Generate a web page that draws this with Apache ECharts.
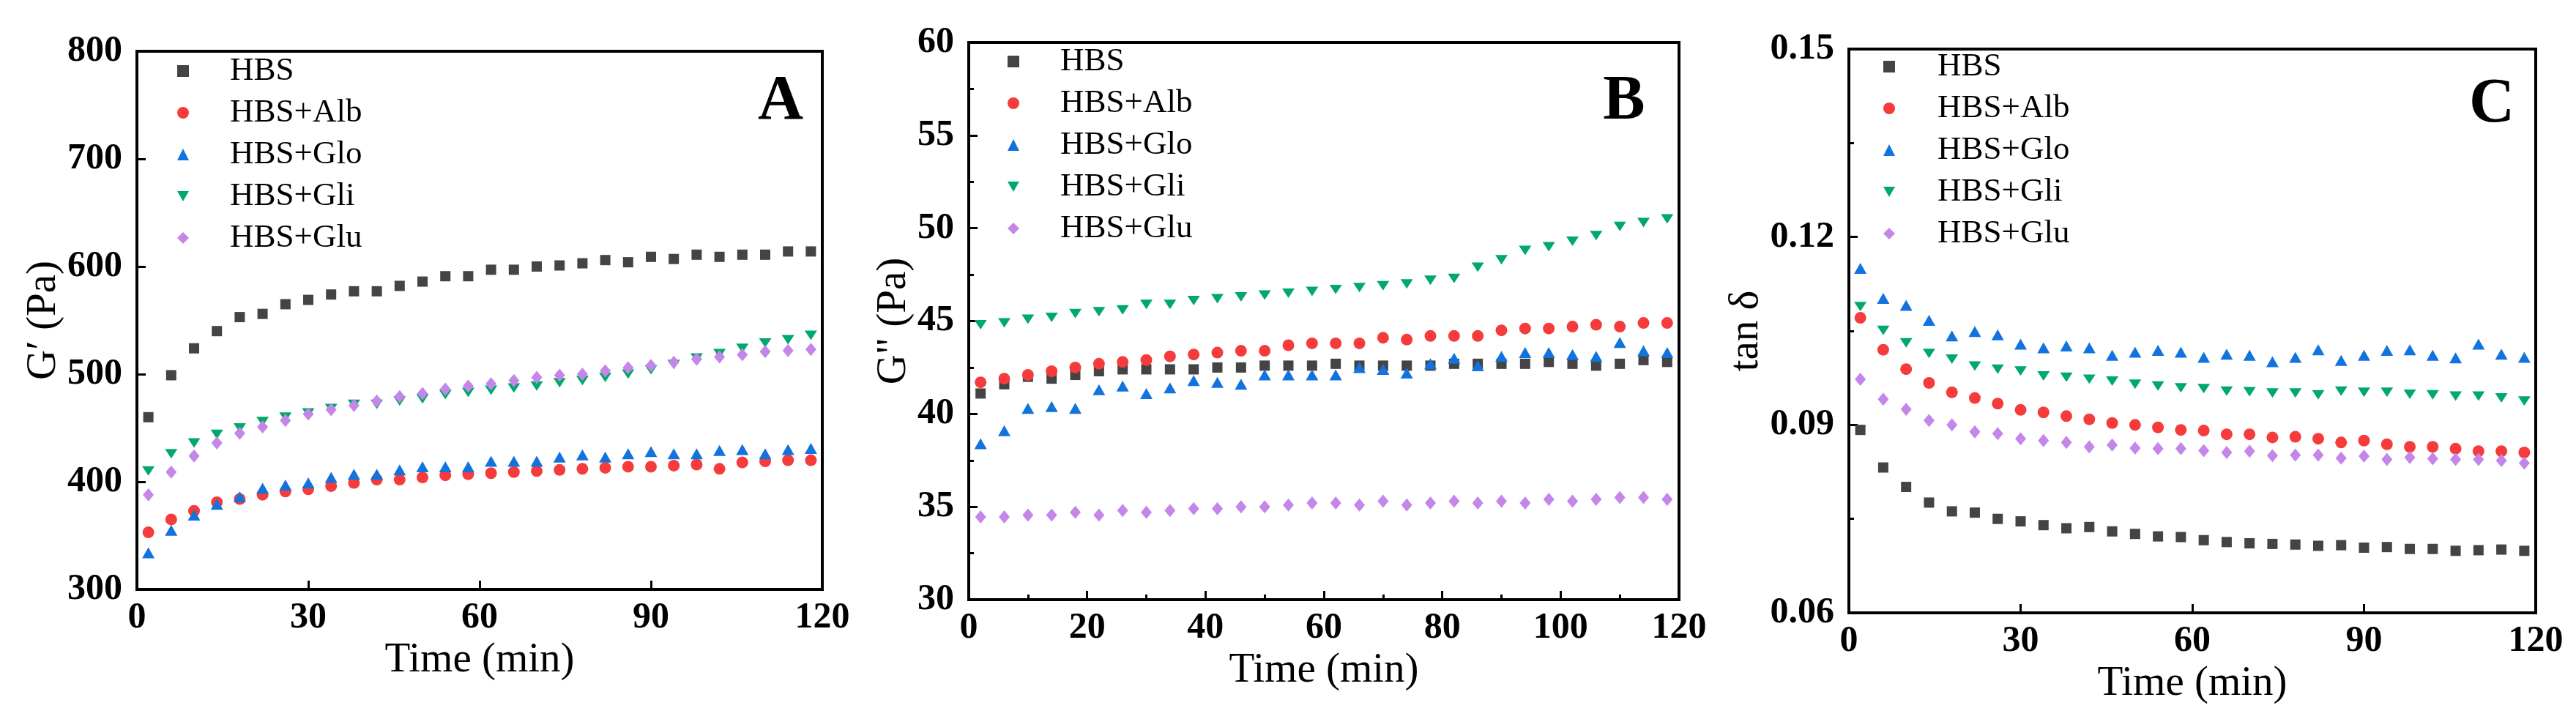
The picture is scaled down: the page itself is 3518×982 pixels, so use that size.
<!DOCTYPE html>
<html>
<head>
<meta charset="utf-8">
<script src="https://cdn.jsdelivr.net/npm/echarts@6/dist/echarts.min.js"></script>
<style>
html,body{margin:0;padding:0;background:#fff;}
#chart{width:3518px;height:982px;}
</style>
</head>
<body>
<div id="chart"></div>
<script>
// ---- data ----
const time = [2,6,10,14,18,22,26,30,34,38,42,46,50,54,58,62,66,70,74,78,82,86,90,94,98,102,106,110,114,118];
const seriesNames = ['HBS','HBS+Alb','HBS+Glo','HBS+Gli','HBS+Glu'];

// Panel A: G' (Pa)
const A_HBS = [460,499,524,540,553,556,565,569,574,577,577,582,586,591,591,597,597,600,601,603,606,604,609,607,611,609,611,611,614,614];
const A_Alb = [353,365,373,381,384,388,391,393,396,399,402,402,404,406,407,408,409,410,411,412,413,414,414,415,416,412,418,419,420,420];
const A_Glo = [334,355,369,379,386,394,397,399,404,407,407,411,414,414,414,419,419,419,423,425,423,426,428,426,426,429,430,426,430,431];
const A_Gli = [410,426,436,444,450,456,460,464,468,472,472,475,477,481,483,485,487,489,492,494,497,500,504,509,515,519,524,529,532,536];
const A_Glu = [388,409,424,436,445,451,457,463,467,471,475,479,482,486,489,491,494,497,499,500,503,506,508,511,514,516,518,521,522,523];

// Panel B: G'' (Pa)
const B_HBS = [41.1,41.6,42.0,41.9,42.1,42.3,42.4,42.4,42.4,42.4,42.5,42.5,42.6,42.6,42.6,42.7,42.6,42.6,42.6,42.6,42.7,42.7,42.7,42.7,42.8,42.7,42.6,42.7,42.9,42.8];
const B_Alb = [41.7,41.9,42.1,42.3,42.5,42.7,42.8,42.9,43.1,43.2,43.3,43.4,43.4,43.7,43.8,43.8,43.8,44.1,44.0,44.2,44.2,44.2,44.5,44.6,44.6,44.7,44.8,44.7,44.9,44.9];
const B_Glo = [38.4,39.1,40.3,40.4,40.3,41.3,41.5,41.1,41.4,41.8,41.7,41.6,42.1,42.1,42.1,42.1,42.5,42.4,42.2,42.7,43.0,42.6,43.1,43.3,43.3,43.2,43.1,43.85,43.4,43.3];
const B_Gli = [44.8,44.9,45.1,45.2,45.4,45.5,45.6,45.9,45.9,46.1,46.2,46.3,46.4,46.5,46.6,46.7,46.8,46.9,47.0,47.2,47.3,47.9,48.3,48.8,49.0,49.3,49.6,50.1,50.3,50.5];
const B_Glu = [34.45,34.45,34.55,34.55,34.7,34.55,34.8,34.7,34.8,34.9,34.9,35.0,35.0,35.1,35.2,35.2,35.1,35.3,35.1,35.2,35.3,35.2,35.3,35.2,35.4,35.3,35.4,35.5,35.5,35.4];

// Panel C: tan delta
const C_HBS = [0.0892,0.0832,0.0801,0.0776,0.0762,0.0760,0.0750,0.0746,0.0740,0.0735,0.0737,0.0730,0.0726,0.0722,0.0721,0.0716,0.0713,0.0711,0.0710,0.0709,0.0707,0.0708,0.0704,0.0705,0.0702,0.0702,0.0699,0.0700,0.0701,0.0699];
const C_Alb = [0.1071,0.1020,0.0989,0.0967,0.0952,0.0943,0.0934,0.0924,0.0920,0.0914,0.0909,0.0903,0.0900,0.0896,0.0892,0.0891,0.0885,0.0885,0.0880,0.0881,0.0878,0.0872,0.0875,0.0869,0.0865,0.0865,0.0862,0.0858,0.0858,0.0856];
const C_Glo = [0.1150,0.1102,0.1091,0.1067,0.1042,0.1049,0.1044,0.1029,0.1023,0.1026,0.1023,0.1011,0.1016,0.1019,0.1016,0.1008,0.1013,0.1011,0.1001,0.1008,0.1020,0.1003,0.1011,0.1019,0.1020,0.1011,0.1007,0.1029,0.1013,0.1008];
const C_Gli = [0.1089,0.1051,0.1031,0.1014,0.1005,0.0994,0.0989,0.0986,0.0978,0.0976,0.0973,0.0970,0.0965,0.0962,0.0959,0.0958,0.0954,0.0953,0.0951,0.0951,0.0948,0.0954,0.0952,0.0952,0.0949,0.0948,0.0946,0.0946,0.0943,0.0938];
const C_Glu = [0.0973,0.0941,0.0925,0.0907,0.0900,0.0889,0.0886,0.0878,0.0875,0.0872,0.0865,0.0868,0.0863,0.0862,0.0862,0.0859,0.0856,0.0858,0.0851,0.0852,0.0852,0.0847,0.0850,0.0845,0.0848,0.0846,0.0845,0.0845,0.0843,0.0839];

const xTicksA = [0,30,60,90,120];
const xTicksB = [0,20,40,60,80,100,120];
const yTicksA = [300,400,500,600,700,800];
const yTicksB = [30,35,40,45,50,55,60];
const yTicksC = ['0.06','0.09','0.12','0.15'];

// ---- styling ----
const FONT = '"Liberation Serif", "Times New Roman", serif';
const colors = ['#444444','#f53b3b','#1273de','#00a86b','#c486e8'];
const symbols = ['rect','circle','triangle','path://M0,0 L20,0 L10,17.32 Z','diamond'];
const symSizes = [14,16,[17,15],[17,15],[15,18]];

const grids = [
  {left:187, top:70, width:936, height:735},
  {left:1323, top:58, width:970, height:761},
  {left:2525, top:67, width:938, height:770}
];

function xAxisCfg(gi, interval, minor) {
  return {
    type:'value', gridIndex:gi, min:0, max:120, interval:interval,
    name:'Time (min)', nameLocation:'middle', nameGap:58,
    nameTextStyle:{fontFamily:FONT, fontSize:57, color:'#000'},
    axisLine:{show:true, lineStyle:{color:'#000', width:4}},
    axisTick:{show:true, inside:true, length:12, lineStyle:{color:'#000', width:3}},
    minorTick:{show:minor, splitNumber:2, length:7, lineStyle:{color:'#000', width:3}},
    axisLabel:{fontFamily:FONT, fontWeight:'bold', fontSize:50, color:'#000', margin:14, showMinLabel:true, showMaxLabel:true},
    splitLine:{show:false}
  };
}
function yAxisCfg(gi, min, max, interval, name, gap, minor, fmt) {
  return {
    type:'value', gridIndex:gi, min:min, max:max, interval:interval,
    name:name, nameLocation:'middle', nameGap:gap,
    nameTextStyle:{fontFamily:FONT, fontSize:57, color:'#000'},
    axisLine:{show:true, lineStyle:{color:'#000', width:4}},
    axisTick:{show:true, inside:true, length:12, lineStyle:{color:'#000', width:3}},
    minorTick:{show:minor, splitNumber:2, length:7, lineStyle:{color:'#000', width:3}},
    axisLabel:{fontFamily:FONT, fontWeight:'bold', fontSize:50, color:'#000', margin:20, showMinLabel:true, showMaxLabel:true,
      formatter: fmt},
    splitLine:{show:false}
  };
}

const panelData = [
  [A_HBS,A_Alb,A_Glo,A_Gli,A_Glu],
  [B_HBS,B_Alb,B_Glo,B_Gli,B_Glu],
  [C_HBS,C_Alb,C_Glo,C_Gli,C_Glu]
];

const series = [];
panelData.forEach((arrs, gi) => {
  arrs.forEach((vals, si) => {
    series.push({
      type:'scatter', name:seriesNames[si], xAxisIndex:gi, yAxisIndex:gi,
      data: time.map((t,i)=>[t, vals[i]]),
      symbol: symbols[si], symbolSize: symSizes[si], symbolKeepAspect:true,
      itemStyle:{color:colors[si], opacity:1},
      emphasis:{disabled:true}
    });
  });
});

function legendCfg(left, top, gap) {
  return {
    orient:'vertical', left:left, top:top, padding:0,
    itemWidth:16, itemHeight:16, itemGap:11, data:seriesNames,
    formatter: '{g| }{t|{name}}',
    textStyle:{fontFamily:FONT, fontSize:45, color:'#000', lineHeight:46,
      rich:{
        g:{width:gap, fontSize:45, lineHeight:46},
        t:{fontFamily:FONT, fontSize:45, color:'#000', lineHeight:46}
      }},
    selectedMode:false
  };
}

const fmtC = v => v.toFixed(2);

const option = {
  backgroundColor:'#fff',
  animation:false,
  grid: grids.map(g => Object.assign({show:true, borderColor:'#000', borderWidth:4, containLabel:false}, g)),
  xAxis: [xAxisCfg(0,30,false), xAxisCfg(1,20,true), xAxisCfg(2,30,false)],
  yAxis: [
    yAxisCfg(0,300,800,100,'G\u2032 (Pa)',95,false),
    yAxisCfg(1,30,60,5,'G" (Pa)',72,true),
    yAxisCfg(2,0.06,0.15,0.03,'tan \u03b4',84,true,fmtC)
  ],
  legend: [legendCfg(242,74,51), legendCfg(1376,61,51), legendCfg(2572,68,53)],
  graphic: [
    {type:'text', x:1066, y:140, style:{text:'A', font:'bold 86px ' + FONT, fill:'#000', align:'center', verticalAlign:'middle'}},
    {type:'text', x:2218, y:140, style:{text:'B', font:'bold 86px ' + FONT, fill:'#000', align:'center', verticalAlign:'middle'}},
    {type:'text', x:3403, y:144, style:{text:'C', font:'bold 86px ' + FONT, fill:'#000', align:'center', verticalAlign:'middle'}}
  ],
  series: series
};

const chart = echarts.init(document.getElementById('chart'), null, {renderer:'canvas'});
chart.setOption(option);
</script>
</body>
</html>
